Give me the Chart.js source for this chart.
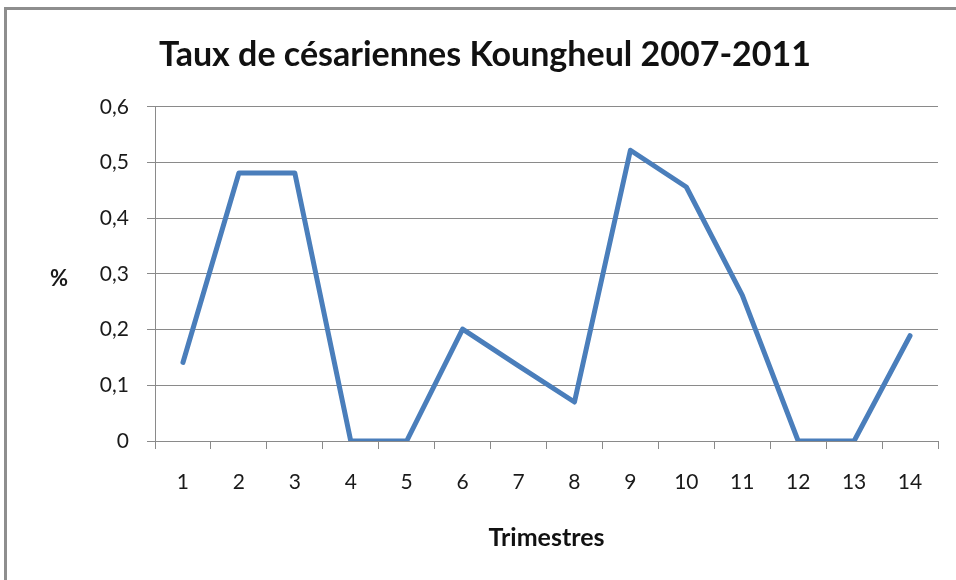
<!DOCTYPE html>
<html>
<head>
<meta charset="utf-8">
<script src="https://cdn.jsdelivr.net/npm/chart.js@4/dist/chart.umd.min.js"></script>
<style>
  html, body { margin: 0; padding: 0; background: #fff; overflow: hidden; }
  #frame { position: absolute; left: 4px; top: 7px; width: 1200px; height: 900px;
           border-top: 3px solid #8e8e8e; border-left: 3px solid #8e8e8e; box-sizing: border-box; }
  #wrap { position: absolute; left: 0; top: 0; width: 956px; height: 580px; }
</style>
</head>
<body>
<div id="frame"></div>
<div id="wrap"><canvas id="c" width="956" height="580"></canvas></div>
<script>
const chartTitle = 'Taux de césariennes Koungheul 2007-2011';
const xAxisTitle = 'Trimestres';
const yAxisTitle = '%';
const categories = ['1','2','3','4','5','6','7','8','9','10','11','12','13','14'];
const values = [0.141, 0.481, 0.481, 0, 0, 0.201, 0.135, 0.07, 0.522, 0.456, 0.262, 0, 0, 0.189];
const yTickValues = [0, 0.1, 0.2, 0.3, 0.4, 0.5, 0.6];
const yTickLabels = ['0', '0,1', '0,2', '0,3', '0,4', '0,5', '0,6'];

const FONT = 'Lato, "Open Sans", sans-serif';
const PAD_LEFT = 32;

const yTitlePlugin = {
  id: 'yTitle',
  afterDraw(chart) {
    const ctx = chart.ctx;
    const y = chart.scales.y;
    ctx.save();
    ctx.font = 'bold 22px ' + FONT;
    ctx.fillStyle = '#1a1a1a';
    ctx.textAlign = 'center';
    ctx.textBaseline = 'middle';
    ctx.fillText(yAxisTitle, 59, y.getPixelForValue(0.3) + 5);
    ctx.restore();
  }
};

new Chart(document.getElementById('c'), {
  type: 'line',
  data: {
    labels: categories,
    datasets: [{
      data: values,
      borderColor: '#4a7ebb',
      borderWidth: 5,
      pointRadius: 0,
      pointHoverRadius: 0,
      tension: 0,
      fill: false,
      borderJoinStyle: 'round',
      borderCapStyle: 'round'
    }]
  },
  options: {
    responsive: false,
    animation: false,
    events: [],
    layout: { padding: { left: PAD_LEFT, right: 18, top: 0, bottom: 0 } },
    plugins: {
      legend: { display: false },
      tooltip: { enabled: false },
      title: {
        display: true,
        text: chartTitle,
        color: '#111',
        font: { family: FONT, size: 34, weight: 'bold' },
        padding: { top: 35, bottom: 31 }
      }
    },
    scales: {
      x: {
        offset: true,
        grid: {
          display: true,
          offset: true,
          drawOnChartArea: false,
          drawTicks: true,
          tickLength: 8,
          color: '#8a8a8a',
          lineWidth: 1
        },
        border: { display: true, color: '#8a8a8a', width: 1 },
        ticks: {
          color: '#1a1a1a',
          font: { family: FONT, size: 21 },
          padding: 21,
          maxRotation: 0,
          autoSkip: false
        },
        title: {
          display: true,
          text: xAxisTitle,
          color: '#111',
          font: { family: FONT, size: 25, weight: 'bold' },
          padding: { top: 0, bottom: 27 }
        },
        afterFit(scale) { scale.height = 139; }
      },
      y: {
        min: 0,
        max: 0.6,
        afterBuildTicks(scale) { scale.ticks = yTickValues.map(v => ({ value: v })); },
        grid: {
          color: '#8a8a8a',
          lineWidth: 1,
          drawTicks: true,
          tickLength: 8
        },
        border: { display: true, color: '#8a8a8a', width: 1 },
        ticks: {
          color: '#1a1a1a',
          font: { family: FONT, size: 21 },
          padding: 18,
          callback(value, index) { return yTickLabels[index]; }
        },
        afterFit(scale) { scale.width = 155 - PAD_LEFT; }
      }
    }
  },
  plugins: [yTitlePlugin]
});
</script>
</body>
</html>
